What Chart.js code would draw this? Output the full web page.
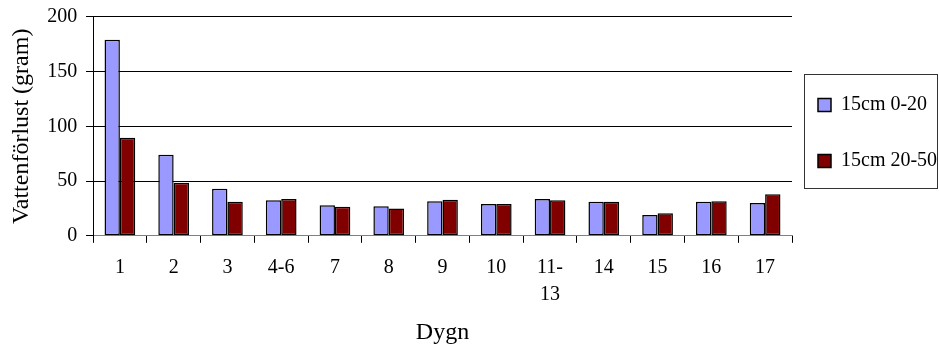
<!DOCTYPE html>
<html>
<head>
<meta charset="utf-8">
<script src="https://cdn.jsdelivr.net/npm/chart.js@4/dist/chart.umd.min.js"></script>
<style>
  html, body { margin: 0; padding: 0; background: #fff; }
  #wrap { width: 939px; height: 352px; position: relative; }
</style>
</head>
<body>
<div id="wrap"><canvas id="c" width="939" height="352"></canvas></div>
<script>
const categories = ['1', '2', '3', '4-6', '7', '8', '9', '10', ['11-', '13'], '14', '15', '16', '17'];
const series1Name = '15cm 0-20';
const series2Name = '15cm 20-50';
const series1 = [179, 74, 43, 32.5, 28, 27, 31.5, 29, 33.5, 31, 19, 31, 30];
const series2 = [89.5, 48.5, 31, 33.5, 26.5, 25, 33, 29, 32.5, 31, 20.5, 31.5, 38];
const yTicks = [0, 50, 100, 150, 200];
const xTitle = 'Dygn';
const yTitle = 'Vattenförlust (gram)';

const FONT = "'Liberation Serif', 'Times New Roman', serif";

const legendBoxPlugin = {
  id: 'legendBox',
  afterLayout(chart) {
    const lg = chart.legend, ca = chart.chartArea;
    const P = lg.options.labels.padding;
    const boxLeft = ca.right + 12;
    lg.left = boxLeft + 14 - P;
    lg.top = 59; lg.bottom = 59 + 160;
  },
  afterDraw(chart) {
    const lg = chart.legend, ca = chart.chartArea, ctx = chart.ctx;
    const x0 = Math.round(ca.right + 12) + 0.5;
    const y0 = Math.round(lg.top + 15) + 0.5;
    const x1 = chart.width - 1.5;
    const y1 = Math.round(lg.top + 129) + 0.5;
    ctx.save();
    ctx.strokeStyle = '#333';
    ctx.lineWidth = 1;
    ctx.strokeRect(x0, y0, x1 - x0, y1 - y0);
    ctx.restore();
  }
};

new Chart(document.getElementById('c'), {
  type: 'bar',
  data: {
    labels: categories,
    datasets: [
      { label: series1Name, data: series1, backgroundColor: '#9999FF', borderColor: '#000', borderWidth: 1.5, borderSkipped: false },
      { label: series2Name, data: series2, backgroundColor: '#800000', borderColor: '#000', borderWidth: 1.5, borderSkipped: false }
    ]
  },
  options: {
    responsive: false,
    animation: false,
    layout: { padding: { top: 14, right: 0, bottom: 0, left: 0 } },
    datasets: { bar: { categoryPercentage: 0.571, barPercentage: 1.0 } },
    plugins: {
      tooltip: { enabled: false },
      legend: {
        position: 'right',
        align: 'start',
        fullSize: false,
        maxWidth: 147,
        labels: {
          boxWidth: 13,
          boxHeight: 13,
          padding: 36,
          color: '#000',
          font: { family: FONT, size: 20 }
        }
      }
    },
    scales: {
      x: {
        offset: true,
        grid: { display: true, offset: true, drawOnChartArea: false, drawTicks: true, tickLength: 7, color: '#000', tickColor: '#000' },
        border: { display: true, color: '#808080', width: 1 },
        ticks: { color: '#000', padding: 11.5, maxRotation: 0, autoSkip: false, font: { family: FONT, size: 20, lineHeight: 1.35 } },
        title: { display: true, text: xTitle, color: '#000', font: { family: FONT, size: 24, lineHeight: 1.1 }, padding: { top: 0, bottom: 5.8 } }
      },
      y: {
        min: 0, max: 200,
        afterBuildTicks(scale) { scale.ticks = yTicks.map(v => ({ value: v })); },
        grid: {
          display: true, drawTicks: true, tickLength: 7,
          color: (c) => (c.tick && c.tick.value === 0) ? '#808080' : '#000',
          tickColor: '#000'
        },
        border: { display: true, color: '#000', width: 1 },
        ticks: { color: '#000', padding: 8.7, font: { family: FONT, size: 20, lineHeight: 0.8 } },
        title: { display: true, text: yTitle, color: '#000', font: { family: FONT, size: 24 }, padding: { top: 7.6, bottom: 2.2 } }
      }
    }
  },
  plugins: [legendBoxPlugin]
});
</script>
</body>
</html>
